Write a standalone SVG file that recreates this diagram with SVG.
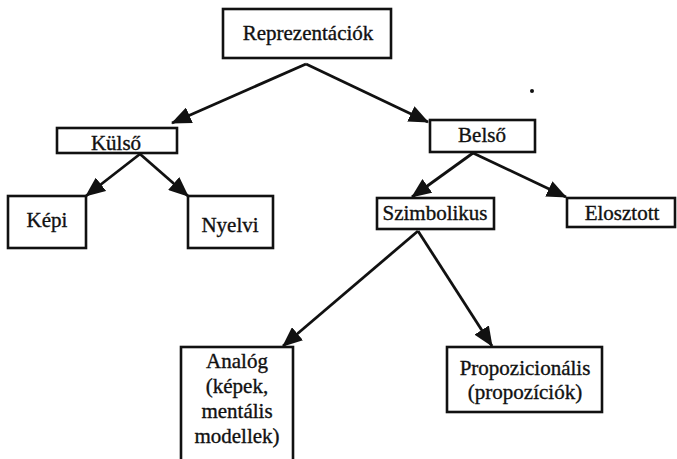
<svg xmlns="http://www.w3.org/2000/svg" width="677" height="459" viewBox="0 0 677 459">
  <style>
    .box { fill: #fff; stroke: #111; stroke-width: 2.6; }
    .lbl { font-family: "Liberation Serif", "Times New Roman", serif; font-size: 21px; fill: #111; stroke: #111; stroke-width: 0.35; text-anchor: middle; }
    .edge { stroke: #111; stroke-width: 2.8; fill: none; marker-end: url(#arr); }
  </style>
  <defs>
    <marker id="arr" markerUnits="userSpaceOnUse" viewBox="0 0 20 17" refX="19" refY="8.5" markerWidth="20" markerHeight="17" orient="auto">
      <path d="M0,0 L20,8.5 L0,17 z" fill="#111"/>
    </marker>
  </defs>
  <rect width="677" height="459" fill="#fff"/>

  <g id="connectors">
    <line class="edge" x1="306" y1="64" x2="172" y2="123"/>
    <line class="edge" x1="306" y1="64" x2="428" y2="122"/>
    <line class="edge" x1="140" y1="154" x2="86" y2="196"/>
    <line class="edge" x1="140" y1="154" x2="188" y2="196"/>
    <line class="edge" x1="473" y1="153" x2="412" y2="197"/>
    <line class="edge" x1="473" y1="153" x2="566" y2="197"/>
    <line class="edge" x1="418" y1="231" x2="283" y2="346"/>
    <line class="edge" x1="418" y1="231" x2="492" y2="346"/>
  </g>

  <g id="reprezentaciok">
    <rect class="box" x="223" y="9" width="168" height="49"/>
    <text class="lbl" x="308" y="40">Reprezentációk</text>
  </g>
  <g id="kulso">
    <rect class="box" x="57" y="128" width="120" height="25"/>
    <text class="lbl" x="116" y="150">Külső</text>
  </g>
  <g id="belso">
    <rect class="box" x="430" y="120" width="105" height="32"/>
    <text class="lbl" x="482" y="142">Belső</text>
  </g>
  <g id="kepi">
    <rect class="box" x="8" y="196" width="78" height="52"/>
    <text class="lbl" x="47" y="227">Képi</text>
  </g>
  <g id="nyelvi">
    <rect class="box" x="188" y="196" width="85" height="52"/>
    <text class="lbl" x="230" y="232">Nyelvi</text>
  </g>
  <g id="szimbolikus">
    <rect class="box" x="377" y="198" width="117" height="31"/>
    <text class="lbl" x="435" y="220">Szimbolikus</text>
  </g>
  <g id="elosztott">
    <rect class="box" x="567" y="198" width="108" height="29"/>
    <text class="lbl" x="622" y="220">Elosztott</text>
  </g>
  <g id="analog">
    <rect class="box" x="181" y="347" width="112" height="130"/>
    <text class="lbl" x="237" y="368">Analóg</text>
    <text class="lbl" x="237" y="393">(képek,</text>
    <text class="lbl" x="237" y="418">mentális</text>
    <text class="lbl" x="237" y="443">modellek)</text>
  </g>
  <g id="propozicionalis">
    <rect class="box" x="447" y="347" width="155" height="65"/>
    <text class="lbl" x="525" y="375">Propozicionális</text>
    <text class="lbl" x="525" y="399">(propozíciók)</text>
  </g>
  <circle cx="532" cy="91" r="2" fill="#111"/>
</svg>
